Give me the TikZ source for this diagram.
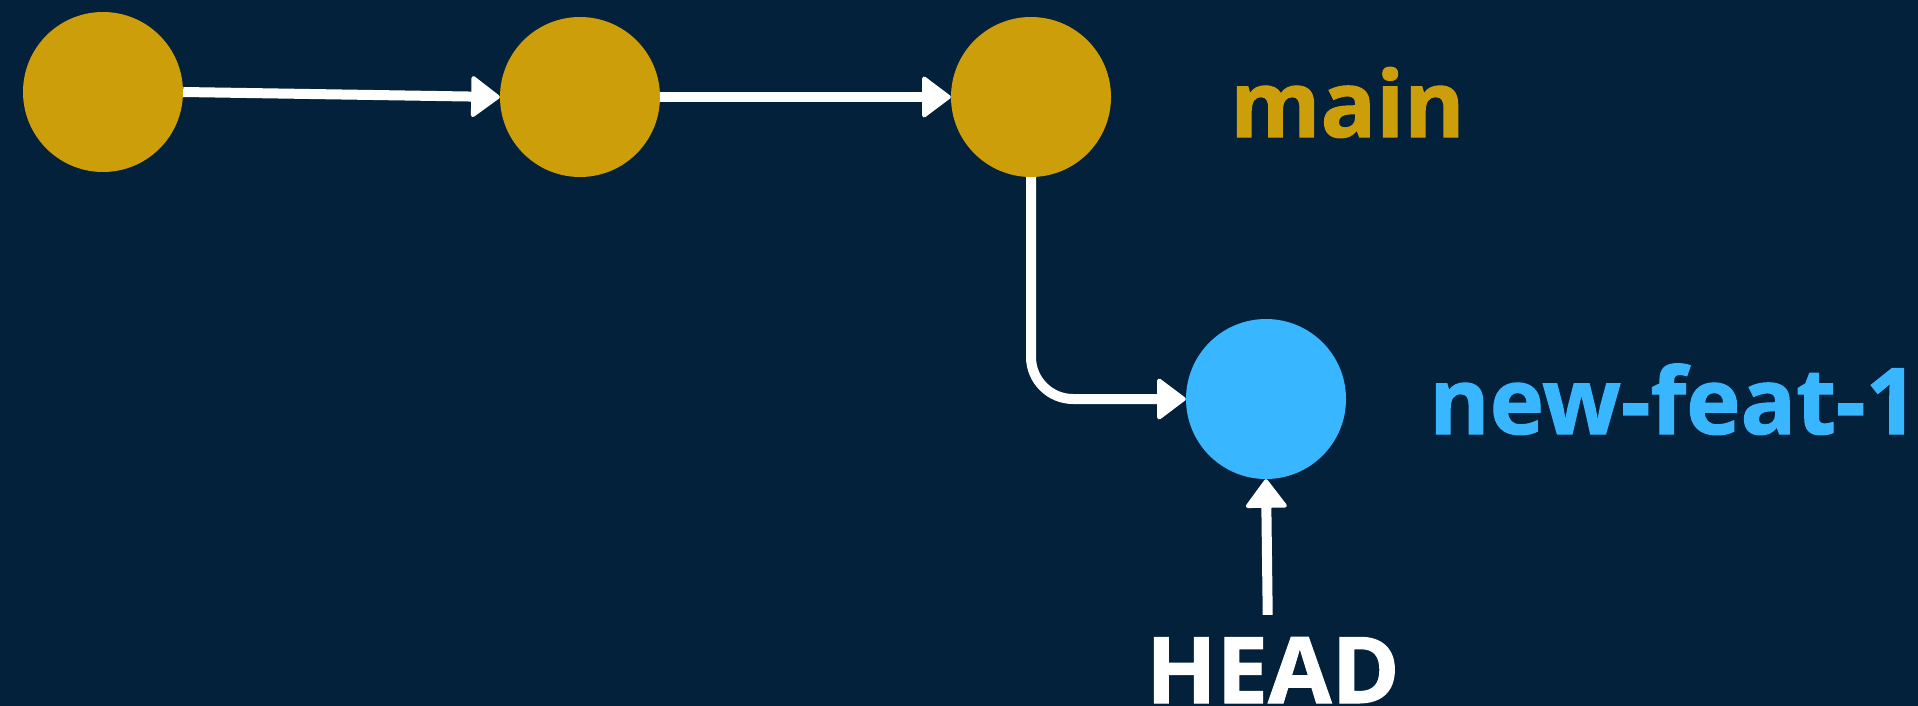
\documentclass[tikz,border=0pt]{standalone}
\usepackage{fontspec}
\setmainfont{Open Sans}[BoldFeatures={FakeBold=1.2}]
\usetikzlibrary{arrows.meta}
\definecolor{bg}{HTML}{03213A}
\definecolor{gold}{HTML}{CC9E0A}
\definecolor{sky}{HTML}{38B6FF}
\tikzset{
  commit/.style={circle, minimum size=160pt, inner sep=0pt, fill=#1, draw=none},
  arr/.style={draw=white, line width=10pt,
    -{Triangle[length=30pt,width=44pt,line width=4pt,round]}},
  lbl/.style={inner sep=0pt, anchor=base west, font=\fontsize{92}{110}\selectfont\bfseries},
}
\begin{document}
\begin{tikzpicture}[x=1pt,y=-1pt]
\fill[bg] (0,0) rectangle (1918,706);
\useasboundingbox (0,0) rectangle (1918,706);
\node[commit=gold] (c1) at (103,92) {};
\node[commit=gold] (c2) at (580,97) {};
\node[commit=gold] (c3) at (1031,97) {};
\node[commit=sky] (c4) at (1266,399) {};
\node[lbl, text=gold] (main) at (1230,137) {main};
\node[lbl, text=sky] (nf) at (1429,434) {new-feat-1};
\node[lbl, text=white] (head) at (1146,703) {HEAD};
\draw[arr] (c1.east) -- (c2.west);
\draw[arr] (c2.east) -- (c3.west);
\draw[arr, rounded corners=42pt] (c3.south) |- (c4.west);
\draw[arr, shorten <=22pt] ([xshift=2pt]head.north -| c4.south) -- (c4.south);
\end{tikzpicture}
\end{document}
